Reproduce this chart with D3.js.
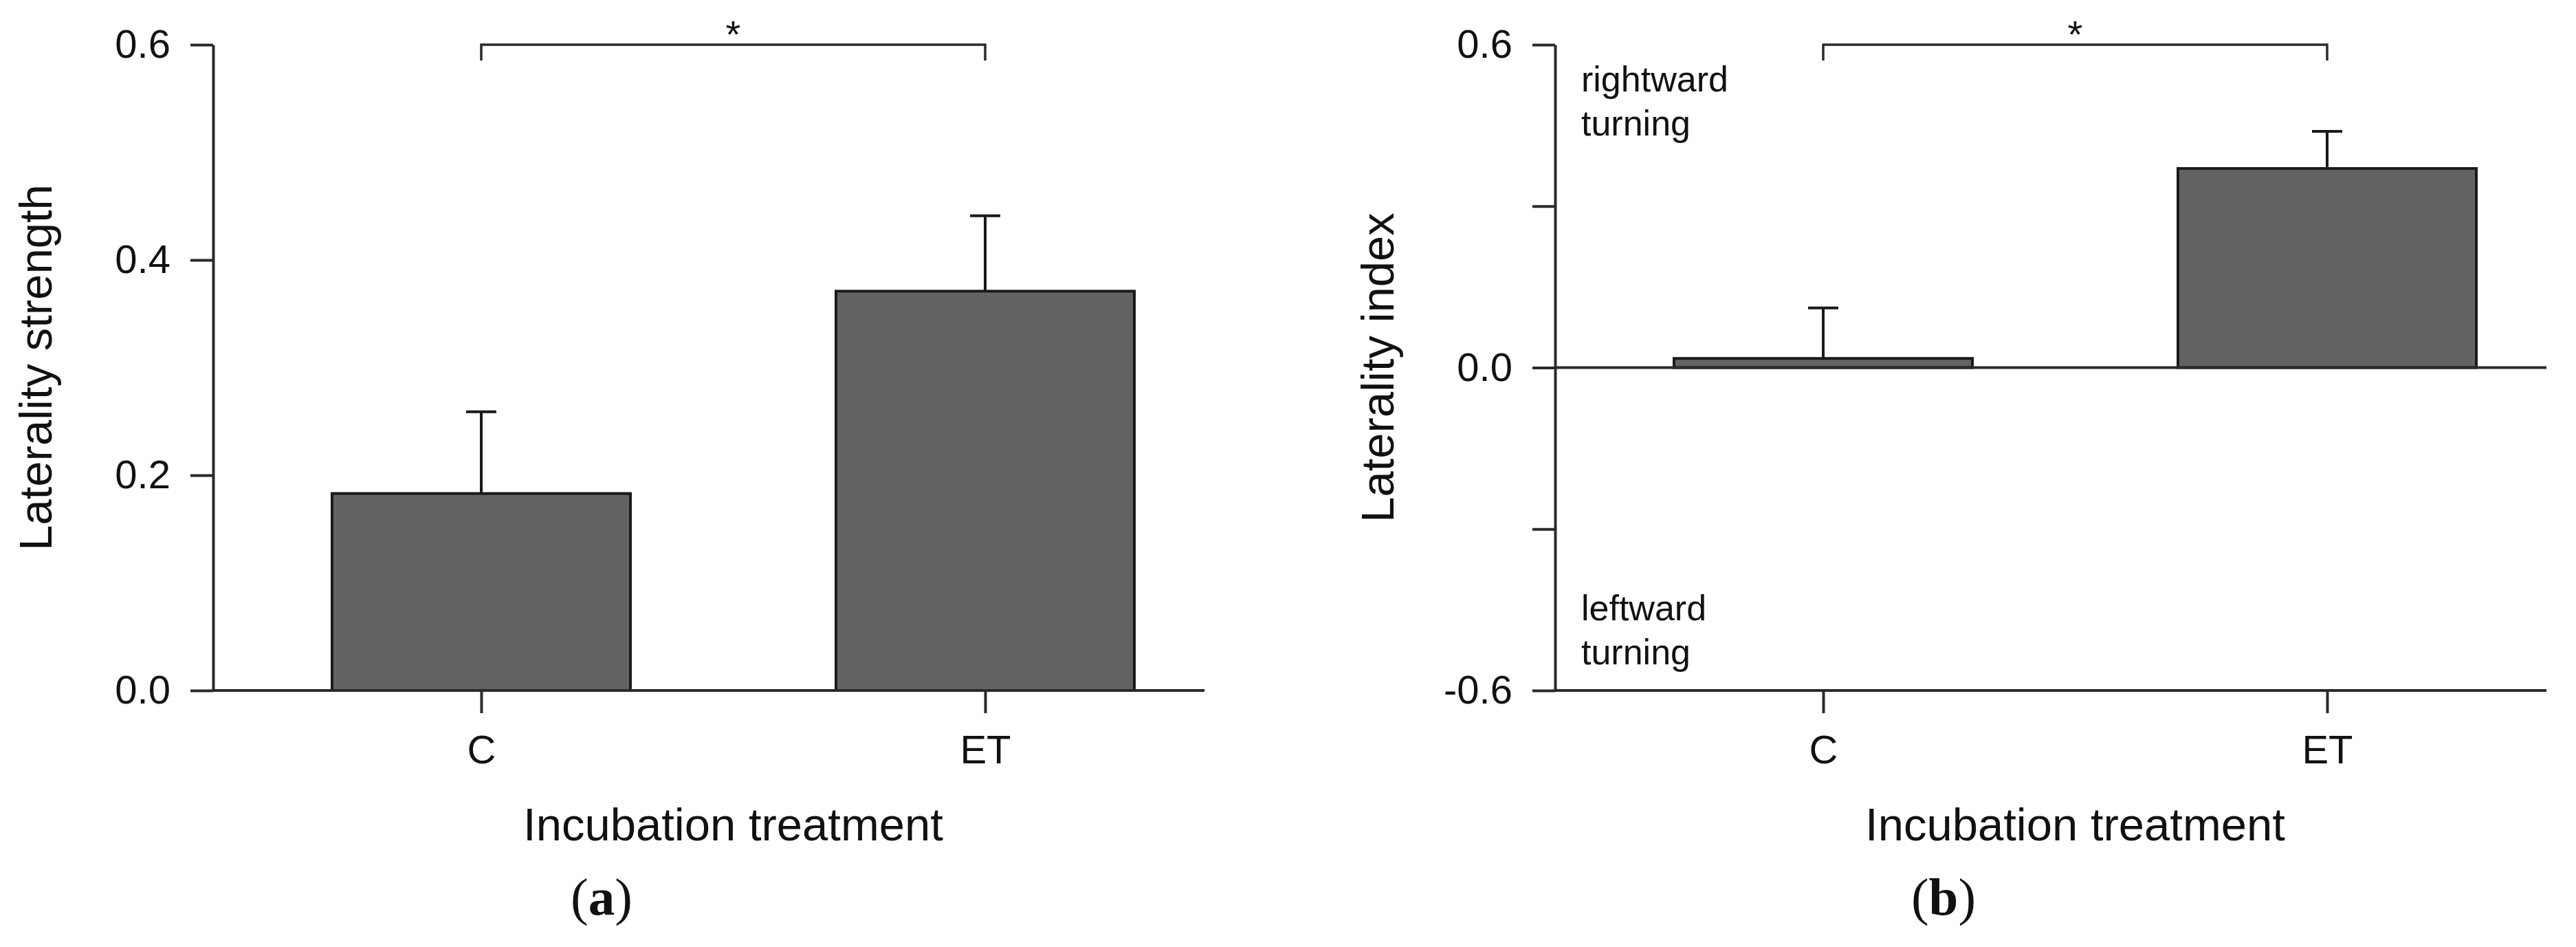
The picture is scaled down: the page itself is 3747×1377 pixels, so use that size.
<!DOCTYPE html>
<html lang="en">
<head>
<meta charset="utf-8">
<title>Laterality strength and index by incubation treatment</title>
<script src="https://cdn.jsdelivr.net/npm/d3@7"></script>
<style>
  body { margin: 0; background: #fff; }
  text { font-family: "Liberation Sans", Arial, sans-serif; fill: #111; }
</style>
</head>
<body>
<script>
// data
var categories = ["C", "ET"];
var strengthMean = [0.183, 0.371];
var strengthErr = [0.076, 0.070];
var indexMean = [0.017, 0.370];
var indexErr = [0.094, 0.069];

var strengthTicks = [0, 0.2, 0.4, 0.6];
var strengthTickLabels = ["0.0", "0.2", "0.4", "0.6"];
var indexTicks = [-0.6, -0.3, 0, 0.3, 0.6];
var indexTickLabels = ["-0.6", "", "0.0", "", "0.6"];

// layout
var w = 3747, h = 1377;
var axisX = 310, plotRight = 1752;
var yTop = 65, yBottom = 1004;
var barWidth = 434, capWidth = 44;
var axisColor = "#2a2a2a", barColor = "#636363";

var svg = d3.select("body").append("svg")
  .attr("width", w)
  .attr("height", h);

function drawPanel(offsetX, opts) {
  var g = svg.append("g").attr("transform", "translate(" + offsetX + ",0)");

  var y = d3.scaleLinear().domain(opts.domain).range([yBottom, yTop]);
  var x = d3.scalePoint().domain(categories).range([700, 1433]);

  // bars
  g.selectAll("rect.bar")
    .data(opts.means)
    .enter()
    .append("rect")
    .attr("class", "bar")
    .attr("x", function(d, i) { return x(categories[i]) - barWidth / 2; })
    .attr("y", function(d) { return y(Math.max(0, d)); })
    .attr("width", barWidth)
    .attr("height", function(d) { return Math.abs(y(d) - y(0)); })
    .attr("fill", barColor)
    .attr("stroke", "#1a1a1a")
    .attr("stroke-width", 4);

  // error bars (upper only)
  g.selectAll("line.err")
    .data(opts.means)
    .enter()
    .append("line")
    .attr("class", "err")
    .attr("x1", function(d, i) { return x(categories[i]); })
    .attr("x2", function(d, i) { return x(categories[i]); })
    .attr("y1", function(d) { return y(d); })
    .attr("y2", function(d, i) { return y(d + opts.errs[i]); })
    .attr("stroke", "#1a1a1a")
    .attr("stroke-width", 4);

  g.selectAll("line.cap")
    .data(opts.means)
    .enter()
    .append("line")
    .attr("class", "cap")
    .attr("x1", function(d, i) { return x(categories[i]) - capWidth / 2; })
    .attr("x2", function(d, i) { return x(categories[i]) + capWidth / 2; })
    .attr("y1", function(d, i) { return y(d + opts.errs[i]); })
    .attr("y2", function(d, i) { return y(d + opts.errs[i]); })
    .attr("stroke", "#1a1a1a")
    .attr("stroke-width", 4);

  // y axis
  var yAxis = g.append("g")
    .attr("transform", "translate(" + axisX + ",0)")
    .call(d3.axisLeft(y)
      .tickValues(opts.ticks)
      .tickFormat(function(d, i) { return opts.tickLabels[i]; })
      .tickSize(33)
      .tickPadding(29)
      .tickSizeOuter(0));
  yAxis.selectAll("path, line").attr("stroke", axisColor).attr("stroke-width", 4);
  yAxis.selectAll("text").attr("font-size", 58).attr("fill", "#111")
    .style("font-family", "'Liberation Sans', Arial, sans-serif");

  // zero line and bottom line
  g.append("line")
    .attr("x1", axisX).attr("x2", plotRight)
    .attr("y1", y(0)).attr("y2", y(0))
    .attr("stroke", axisColor).attr("stroke-width", 4);
  if (opts.domain[0] < 0) {
    g.append("line")
      .attr("x1", axisX).attr("x2", plotRight)
      .attr("y1", yBottom).attr("y2", yBottom)
      .attr("stroke", axisColor).attr("stroke-width", 4);
  }

  // x ticks and labels
  var xAxis = g.append("g")
    .attr("transform", "translate(0," + yBottom + ")")
    .call(d3.axisBottom(x).tickSize(33).tickPadding(32));
  xAxis.select(".domain").remove();
  xAxis.selectAll("line").attr("stroke", axisColor).attr("stroke-width", 4);
  xAxis.selectAll("text").attr("font-size", 58).attr("fill", "#111")
    .style("font-family", "'Liberation Sans', Arial, sans-serif");

  // significance bracket
  var yb = y(opts.domain[1]);
  g.append("path")
    .attr("d", "M" + x("C") + "," + (yb + 23) + "V" + yb + "H" + x("ET") + "V" + (yb + 23))
    .attr("fill", "none")
    .attr("stroke", axisColor)
    .attr("stroke-width", 3.5);
  g.append("text")
    .attr("x", (x("C") + x("ET")) / 2)
    .attr("y", yb + 4)
    .attr("text-anchor", "middle")
    .attr("font-size", 56)
    .text("*");

  // titles
  g.append("text")
    .attr("transform", "translate(75," + (yTop + yBottom) / 2 + ") rotate(-90)")
    .attr("text-anchor", "middle")
    .attr("font-size", 67)
    .text(opts.yTitle);

  g.append("text")
    .attr("x", (x("C") + x("ET")) / 2)
    .attr("y", 1222)
    .attr("text-anchor", "middle")
    .attr("font-size", 67)
    .text("Incubation treatment");

  var lab = g.append("text")
    .attr("x", 875)
    .attr("y", 1330)
    .attr("text-anchor", "middle")
    .attr("font-size", 77)
    .style("font-family", "'Liberation Serif', 'Times New Roman', serif");
  lab.append("tspan").text("(");
  lab.append("tspan").attr("font-weight", "bold").text(opts.panel);
  lab.append("tspan").text(")");

  // direction notes
  if (opts.notes) {
    opts.notes.forEach(function(n) {
      var t = g.append("text")
        .attr("x", axisX + 38)
        .attr("y", n.y)
        .attr("font-size", 52);
      n.lines.forEach(function(line, i) {
        t.append("tspan").attr("x", axisX + 38).attr("dy", i === 0 ? 0 : 64).text(line);
      });
    });
  }
}

drawPanel(0, {
  domain: [0, 0.6],
  means: strengthMean,
  errs: strengthErr,
  ticks: strengthTicks,
  tickLabels: strengthTickLabels,
  yTitle: "Laterality strength",
  panel: "a"
});

drawPanel(1952, {
  domain: [-0.6, 0.6],
  means: indexMean,
  errs: indexErr,
  ticks: indexTicks,
  tickLabels: indexTickLabels,
  yTitle: "Laterality index",
  panel: "b",
  notes: [
    { y: 133, lines: ["rightward", "turning"] },
    { y: 902, lines: ["leftward", "turning"] }
  ]
});
</script>
</body>
</html>
